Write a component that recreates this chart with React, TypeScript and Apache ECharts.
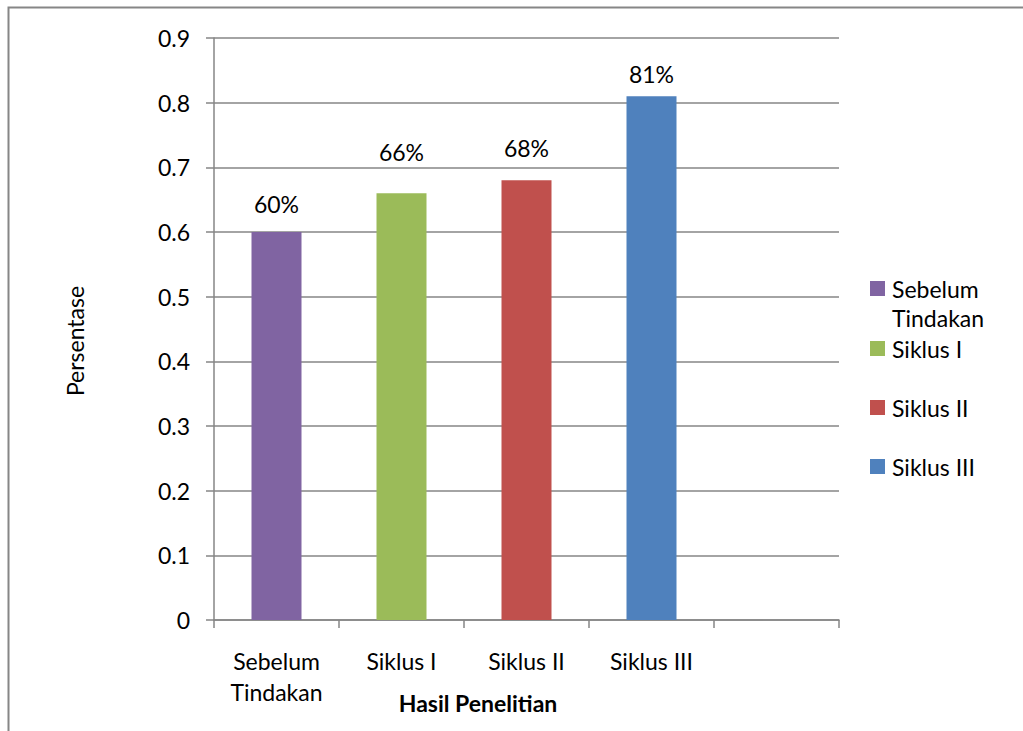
import React, { useEffect, useRef } from "react";
import * as echarts from "echarts";

const categories = ["Sebelum\nTindakan", "Siklus I", "Siklus II", "Siklus III", ""];
const seriesNames = ["Sebelum Tindakan", "Siklus I", "Siklus II", "Siklus III"];
const values = [0.6, 0.66, 0.68, 0.81];
const colors = ["#8064A2", "#9BBB59", "#C0504D", "#4F81BD"];
const labelDistances = [17, 30, 21, 11];
const legendCenters = [284.5, 344.5, 403.5, 462.5];
const yTicks = [0, 0.1, 0.2, 0.3, 0.4, 0.5, 0.6, 0.7, 0.8, 0.9];

const FONT = "Lato, 'Open Sans', sans-serif";
const FS = 23;

export default function App() {
  const ref = useRef<HTMLDivElement>(null);
  useEffect(() => {
    if (!ref.current) return;
    const chart = echarts.init(ref.current, undefined, { renderer: "svg" });
    const series = seriesNames.map((name, i) => ({
      name,
      type: "bar",
      barWidth: "40%",
      barGap: "-100%",
      itemStyle: { color: colors[i] },
      label: {
        show: true,
        position: "top",
        distance: labelDistances[i],
        color: "#000",
        fontSize: FS,
        fontFamily: FONT,
        formatter: (p: any) => Math.round(p.value * 100) + "%",
      },
      data: categories.map((_, j) => (j === i ? values[i] : null)),
    }));
    const legends = seriesNames.map((name, i) => ({
      show: true,
      orient: "vertical",
      left: 870,
      top: legendCenters[i] - 7.5,
      padding: 0,
      itemWidth: 15,
      itemHeight: 15,
      itemGap: 0,
      icon: "rect",
      selectedMode: false,
      data: [name],
      formatter: (n: string) => (n === "Sebelum Tindakan" ? "Sebelum" : n),
      textStyle: {
        color: "#000",
        fontSize: FS,
        fontFamily: FONT,
        padding: [0, 0, 0, 2],
      },
    }));
    chart.setOption({
      animation: false,
      backgroundColor: "#fff",
      grid: { left: 214, top: 38, width: 625, height: 582, containLabel: false },
      legend: legends,
      xAxis: {
        type: "category",
        data: categories,
        boundaryGap: true,
        axisLine: { show: true, lineStyle: { color: "#868686", width: 1.5 } },
        axisTick: { show: true, length: 8, lineStyle: { color: "#868686", width: 1.5 } },
        axisLabel: {
          color: "#000",
          fontSize: FS,
          fontFamily: FONT,
          margin: 25,
          lineHeight: 31,
          interval: 0,
        },
        splitLine: { show: false },
      },
      yAxis: {
        type: "value",
        min: 0,
        max: 0.9,
        interval: 0.1,
        axisLine: { show: true, lineStyle: { color: "#868686", width: 1.5 } },
        axisTick: { show: true, length: 8, lineStyle: { color: "#868686", width: 1.5 } },
        axisLabel: {
          color: "#000",
          fontSize: FS,
          fontFamily: FONT,
          margin: 24,
          formatter: (v: number) => {
            const t = yTicks.find((x) => Math.abs(x - v) < 1e-6);
            return t === 0 ? "0" : String(Math.round((t ?? v) * 10) / 10);
          },
        },
        splitLine: { show: true, lineStyle: { color: "#868686", width: 1.5 } },
      },
      series,
      graphic: [
        {
          type: "polyline",
          shape: { points: [[8.5, 731], [8.5, 7.5], [1023, 7.5]] },
          style: { stroke: "#868686", lineWidth: 2, fill: null },
          silent: true,
        },
        {
          type: "text",
          x: 892,
          y: 318,
          style: {
            text: "Tindakan",
            fontSize: FS,
            fontFamily: FONT,
            fill: "#000",
            align: "left",
            verticalAlign: "middle",
          },
        },
        {
          type: "text",
          x: 478,
          y: 703,
          style: {
            text: "Hasil Penelitian",
            fontSize: FS,
            fontWeight: "bold",
            fontFamily: FONT,
            fill: "#000",
            align: "center",
            verticalAlign: "middle",
          },
        },
        {
          type: "text",
          x: 75,
          y: 341,
          rotation: Math.PI / 2,
          style: {
            text: "Persentase",
            fontSize: FS,
            fontFamily: FONT,
            fill: "#000",
            align: "center",
            verticalAlign: "middle",
          },
        },
      ],
    });
    return () => chart.dispose();
  }, []);
  return (
    <div
      ref={ref}
      style={{ position: "absolute", left: 0, top: 0, width: 1023, height: 731 }}
    />
  );
}
